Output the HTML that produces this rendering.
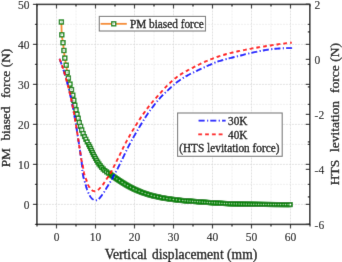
<!DOCTYPE html>
<html><head><meta charset="utf-8"><style>
html,body{margin:0;padding:0;background:#fff;}
body{width:342px;height:262px;overflow:hidden;}
text{stroke:#000;stroke-width:0.3px;}
.tk text{stroke-width:0.1px;}
svg{display:block;will-change:transform;font-family:"Liberation Serif",serif;}
</style></head><body>
<svg width="342" height="262" viewBox="0 0 342 262">
<defs><filter id="bl" x="0" y="0" width="342" height="262" filterUnits="userSpaceOnUse" primitiveUnits="userSpaceOnUse"><feConvolveMatrix order="3" kernelMatrix="0.00524 0.06192 0.00524 0.06192 0.73137 0.06192 0.00524 0.06192 0.00524" divisor="1" preserveAlpha="true" edgeMode="duplicate"/></filter></defs>
<g filter="url(#bl)">
<rect width="342" height="262" fill="#fff"/>
<g stroke="#ececec" stroke-width="0.8" stroke-dasharray="2 1" fill="none"><line x1="76.00" y1="4.4" x2="76.00" y2="224.4" /><line x1="115.00" y1="4.4" x2="115.00" y2="224.4" /><line x1="154.00" y1="4.4" x2="154.00" y2="224.4" /><line x1="193.00" y1="4.4" x2="193.00" y2="224.4" /><line x1="232.00" y1="4.4" x2="232.00" y2="224.4" /><line x1="271.00" y1="4.4" x2="271.00" y2="224.4" /><line x1="36.9" y1="184.40" x2="309.8" y2="184.40" /><line x1="36.9" y1="144.40" x2="309.8" y2="144.40" /><line x1="36.9" y1="104.40" x2="309.8" y2="104.40" /><line x1="36.9" y1="64.40" x2="309.8" y2="64.40" /><line x1="36.9" y1="24.40" x2="309.8" y2="24.40" /></g>
<g stroke="#dadada" stroke-width="0.8" stroke-dasharray="2 1" fill="none"><line x1="56.50" y1="4.4" x2="56.50" y2="224.4" /><line x1="95.50" y1="4.4" x2="95.50" y2="224.4" /><line x1="134.50" y1="4.4" x2="134.50" y2="224.4" /><line x1="173.50" y1="4.4" x2="173.50" y2="224.4" /><line x1="212.50" y1="4.4" x2="212.50" y2="224.4" /><line x1="251.50" y1="4.4" x2="251.50" y2="224.4" /><line x1="290.50" y1="4.4" x2="290.50" y2="224.4" /><line x1="36.9" y1="204.40" x2="309.8" y2="204.40" /><line x1="36.9" y1="164.40" x2="309.8" y2="164.40" /><line x1="36.9" y1="124.40" x2="309.8" y2="124.40" /><line x1="36.9" y1="84.40" x2="309.8" y2="84.40" /><line x1="36.9" y1="44.40" x2="309.8" y2="44.40" /></g>
<path d="M61.40,22.00 L61.42,22.78 L61.44,23.82 L61.47,25.05 L61.49,26.43 L61.52,27.91 L61.56,29.42 L61.61,30.92 L61.66,32.35 L61.73,33.66 L61.80,34.80 L61.89,35.79 L61.99,36.70 L62.11,37.53 L62.24,38.32 L62.37,39.06 L62.50,39.78 L62.64,40.49 L62.77,41.20 L62.89,41.94 L63.00,42.70 L63.10,43.48 L63.20,44.27 L63.29,45.05 L63.38,45.84 L63.47,46.62 L63.55,47.40 L63.64,48.18 L63.72,48.95 L63.81,49.73 L63.90,50.50 L63.99,51.27 L64.07,52.04 L64.15,52.81 L64.24,53.58 L64.32,54.34 L64.40,55.11 L64.49,55.86 L64.59,56.62 L64.69,57.36 L64.80,58.10 L64.92,58.83 L65.05,59.55 L65.20,60.26 L65.34,60.97 L65.49,61.67 L65.64,62.37 L65.79,63.07 L65.94,63.78 L66.07,64.48 L66.20,65.20 L66.32,65.93 L66.42,66.67 L66.52,67.43 L66.62,68.19 L66.71,68.94 L66.80,69.69 L66.90,70.43 L66.99,71.15 L67.09,71.84 L67.20,72.50 L67.31,73.13 L67.42,73.72 L67.53,74.29 L67.65,74.84 L67.76,75.38 L67.88,75.91 L68.00,76.44 L68.13,76.98 L68.26,77.53 L68.40,78.10 L68.54,78.69 L68.70,79.28 L68.85,79.89 L69.02,80.50 L69.18,81.11 L69.35,81.72 L69.51,82.32 L69.68,82.93 L69.84,83.52 L70.00,84.10 L70.15,84.67 L70.31,85.23 L70.46,85.78 L70.62,86.33 L70.77,86.88 L70.92,87.42 L71.07,87.96 L71.21,88.50 L71.36,89.05 L71.50,89.60 L71.64,90.16 L71.78,90.72 L71.91,91.29 L72.05,91.85 L72.18,92.42 L72.31,92.98 L72.44,93.55 L72.56,94.10 L72.68,94.66 L72.80,95.20 L72.91,95.74 L73.02,96.27 L73.12,96.80 L73.22,97.32 L73.32,97.84 L73.41,98.36 L73.51,98.87 L73.60,99.39 L73.70,99.89 L73.80,100.40 L73.90,100.90 L74.00,101.41 L74.09,101.90 L74.19,102.40 L74.29,102.89 L74.39,103.38 L74.49,103.87 L74.59,104.35 L74.69,104.83 L74.80,105.30 L74.91,105.77 L75.03,106.23 L75.15,106.68 L75.28,107.13 L75.40,107.58 L75.52,108.02 L75.65,108.46 L75.77,108.91 L75.89,109.35 L76.00,109.80 L76.11,110.25 L76.21,110.71 L76.31,111.17 L76.40,111.62 L76.50,112.08 L76.60,112.54 L76.69,112.99 L76.79,113.43 L76.89,113.87 L77.00,114.30 L77.11,114.72 L77.23,115.13 L77.35,115.53 L77.47,115.92 L77.59,116.31 L77.72,116.70 L77.84,117.09 L77.96,117.49 L78.08,117.89 L78.20,118.30 L78.31,118.72 L78.42,119.15 L78.53,119.58 L78.64,120.02 L78.74,120.46 L78.85,120.90 L78.96,121.34 L79.07,121.77 L79.18,122.19 L79.30,122.60 L79.42,123.00 L79.55,123.40 L79.68,123.78 L79.82,124.17 L79.95,124.54 L80.08,124.92 L80.22,125.29 L80.35,125.66 L80.48,126.03 L80.60,126.40 L80.72,126.77 L80.83,127.13 L80.94,127.49 L81.04,127.85 L81.14,128.21 L81.25,128.57 L81.35,128.93 L81.46,129.28 L81.58,129.64 L81.70,130.00 L81.83,130.36 L81.96,130.73 L82.10,131.10 L82.24,131.47 L82.38,131.84 L82.53,132.20 L82.67,132.56 L82.82,132.92 L82.96,133.26 L83.10,133.60 L83.24,133.92 L83.37,134.21 L83.49,134.49 L83.62,134.77 L83.74,135.04 L83.88,135.31 L84.01,135.60 L84.16,135.91 L84.32,136.24 L84.50,136.60 L84.69,136.99 L84.89,137.41 L85.11,137.85 L85.33,138.30 L85.56,138.77 L85.80,139.25 L86.04,139.73 L86.29,140.22 L86.55,140.71 L86.80,141.20 L87.05,141.67 L87.30,142.12 L87.55,142.56 L87.81,143.00 L88.07,143.46 L88.34,143.93 L88.63,144.45 L88.93,145.00 L89.25,145.62 L89.60,146.30 L89.97,147.06 L90.37,147.91 L90.78,148.81 L91.22,149.76 L91.66,150.74 L92.12,151.74 L92.59,152.74 L93.06,153.73 L93.53,154.69 L94.00,155.60 L94.48,156.49 L94.96,157.38 L95.46,158.27 L95.96,159.15 L96.46,160.02 L96.97,160.87 L97.48,161.70 L97.99,162.50 L98.50,163.27 L99.00,164.00 L99.50,164.69 L99.98,165.35 L100.47,165.98 L100.95,166.57 L101.44,167.15 L101.93,167.71 L102.43,168.24 L102.94,168.77 L103.46,169.29 L104.00,169.80 L104.54,170.29 L105.07,170.73 L105.60,171.15 L106.14,171.55 L106.69,171.94 L107.26,172.33 L107.87,172.75 L108.53,173.19 L109.23,173.67 L110.00,174.20 L110.84,174.79 L111.74,175.42 L112.71,176.09 L113.71,176.79 L114.75,177.50 L115.81,178.22 L116.87,178.94 L117.94,179.65 L118.98,180.34 L120.00,181.00 L121.00,181.64 L122.00,182.27 L123.00,182.90 L124.00,183.52 L125.00,184.14 L126.00,184.74 L127.00,185.33 L128.00,185.90 L129.00,186.46 L130.00,187.00 L131.00,187.52 L132.00,188.03 L133.00,188.52 L134.00,189.00 L135.00,189.46 L136.00,189.91 L137.00,190.35 L138.00,190.78 L139.00,191.19 L140.00,191.60 L141.01,192.00 L142.03,192.38 L143.07,192.76 L144.10,193.12 L145.13,193.47 L146.15,193.81 L147.15,194.13 L148.13,194.44 L149.09,194.73 L150.00,195.00 L150.88,195.25 L151.73,195.48 L152.55,195.70 L153.35,195.89 L154.13,196.07 L154.90,196.25 L155.65,196.41 L156.40,196.58 L157.15,196.74 L157.90,196.90 L158.61,197.06 L159.24,197.20 L159.84,197.34 L160.42,197.47 L161.01,197.59 L161.63,197.72 L162.31,197.85 L163.09,197.99 L163.97,198.14 L165.00,198.30 L166.18,198.48 L167.49,198.67 L168.92,198.88 L170.43,199.10 L172.01,199.31 L173.62,199.53 L175.25,199.74 L176.87,199.94 L178.46,200.13 L180.00,200.30 L181.50,200.45 L183.00,200.59 L184.50,200.72 L186.00,200.84 L187.50,200.96 L189.00,201.07 L190.50,201.17 L192.00,201.28 L193.50,201.39 L195.00,201.50 L196.49,201.61 L197.97,201.73 L199.44,201.84 L200.90,201.95 L202.38,202.06 L203.86,202.17 L205.35,202.28 L206.87,202.39 L208.42,202.49 L210.00,202.60 L211.64,202.71 L213.34,202.82 L215.08,202.93 L216.85,203.04 L218.62,203.14 L220.39,203.25 L222.13,203.35 L223.82,203.44 L225.45,203.52 L227.00,203.60 L228.45,203.66 L229.82,203.72 L231.13,203.77 L232.39,203.81 L233.62,203.84 L234.85,203.88 L236.08,203.91 L237.34,203.94 L238.64,203.97 L240.00,204.00 L241.42,204.03 L242.87,204.07 L244.35,204.10 L245.86,204.13 L247.38,204.16 L248.90,204.19 L250.44,204.22 L251.97,204.25 L253.49,204.27 L255.00,204.30 L256.48,204.32 L257.92,204.35 L259.33,204.37 L260.75,204.39 L262.17,204.41 L263.62,204.43 L265.11,204.45 L266.66,204.47 L268.29,204.48 L270.00,204.50 L271.91,204.51 L274.05,204.53 L276.34,204.54 L278.71,204.55 L281.09,204.56 L283.39,204.57 L285.54,204.58 L287.45,204.59 L289.07,204.59 L290.30,204.60" fill="none" stroke="#f5891c" stroke-width="1.8" stroke-linejoin="round"/>
<g fill="#ffffff" stroke="#0b840b" stroke-width="1.8"><rect x="59.40" y="20.00" width="4.0" height="4.0" stroke-width="1.35"/><rect x="59.80" y="32.80" width="4.0" height="4.0" stroke-width="1.35"/><rect x="61.00" y="40.70" width="4.0" height="4.0" stroke-width="1.35"/><rect x="61.90" y="48.50" width="4.0" height="4.0" stroke-width="1.35"/><rect x="62.80" y="56.10" width="4.0" height="4.0" stroke-width="1.35"/><rect x="64.20" y="63.20" width="4.0" height="4.0" stroke-width="1.35"/><rect x="65.20" y="70.50" width="4.0" height="4.0" stroke-width="1.35"/><rect x="66.40" y="76.10" width="4.0" height="4.0" stroke-width="1.35"/><rect x="68.00" y="82.10" width="4.0" height="4.0" stroke-width="1.35"/><rect x="69.50" y="87.60" width="4.0" height="4.0" stroke-width="1.35"/><rect x="70.80" y="93.20" width="4.0" height="4.0" stroke-width="1.35"/><rect x="71.80" y="98.40" width="4.0" height="4.0" stroke-width="1.35"/><rect x="72.80" y="103.30" width="4.0" height="4.0" stroke-width="1.35"/><rect x="74.00" y="107.80" width="4.0" height="4.0" stroke-width="1.35"/><rect x="75.00" y="112.30" width="4.0" height="4.0" stroke-width="1.35"/><rect x="76.20" y="116.30" width="4.0" height="4.0" stroke-width="1.35"/><rect x="77.30" y="120.60" width="4.0" height="4.0" stroke-width="1.35"/><rect x="78.60" y="124.40" width="4.0" height="4.0" stroke-width="1.35"/><rect x="79.70" y="128.00" width="4.0" height="4.0" stroke-width="1.35"/><rect x="81.10" y="131.60" width="4.0" height="4.0" stroke-width="1.35"/><rect x="82.65" y="134.75" width="3.7" height="3.7" stroke-width="1.45"/><rect x="83.98" y="137.44" width="3.7" height="3.7" stroke-width="1.45"/><rect x="85.36" y="140.10" width="3.7" height="3.7" stroke-width="1.45"/><rect x="86.84" y="142.71" width="3.7" height="3.7" stroke-width="1.45"/><rect x="87.85" y="144.66" width="3.7" height="3.7" stroke-width="1.45"/><rect x="88.79" y="146.65" width="3.7" height="3.7" stroke-width="1.45"/><rect x="89.70" y="148.66" width="3.7" height="3.7" stroke-width="1.45"/><rect x="90.62" y="150.65" width="3.7" height="3.7" stroke-width="1.45"/><rect x="91.58" y="152.64" width="3.7" height="3.7" stroke-width="1.45"/><rect x="92.60" y="154.59" width="3.7" height="3.7" stroke-width="1.45"/><rect x="93.66" y="156.51" width="3.7" height="3.7" stroke-width="1.45"/><rect x="94.76" y="158.42" width="3.7" height="3.7" stroke-width="1.45"/><rect x="95.91" y="160.29" width="3.7" height="3.7" stroke-width="1.45"/><rect x="97.13" y="162.12" width="3.7" height="3.7" stroke-width="1.45"/><rect x="98.44" y="163.89" width="3.7" height="3.7" stroke-width="1.45"/><rect x="99.84" y="165.59" width="3.7" height="3.7" stroke-width="1.45"/><rect x="101.35" y="167.18" width="3.7" height="3.7" stroke-width="1.45"/><rect x="102.97" y="168.67" width="3.7" height="3.7" stroke-width="1.45"/><rect x="104.72" y="170.00" width="3.7" height="3.7" stroke-width="1.45"/><rect x="106.54" y="171.24" width="3.7" height="3.7" stroke-width="1.45"/><rect x="108.35" y="172.49" width="3.7" height="3.7" stroke-width="1.45"/><rect x="109.38" y="173.21" width="3.7" height="3.7" stroke-width="1.45"/><rect x="110.40" y="173.92" width="3.7" height="3.7" stroke-width="1.45"/><rect x="111.43" y="174.64" width="3.7" height="3.7" stroke-width="1.45"/><rect x="112.46" y="175.35" width="3.7" height="3.7" stroke-width="1.45"/><rect x="113.49" y="176.05" width="3.7" height="3.7" stroke-width="1.45"/><rect x="114.52" y="176.75" width="3.7" height="3.7" stroke-width="1.45"/><rect x="115.56" y="177.45" width="3.7" height="3.7" stroke-width="1.45"/><rect x="116.60" y="178.14" width="3.7" height="3.7" stroke-width="1.45"/><rect x="117.65" y="178.83" width="3.7" height="3.7" stroke-width="1.45"/><rect x="118.70" y="179.50" width="3.7" height="3.7" stroke-width="1.45"/><rect x="119.75" y="180.17" width="3.7" height="3.7" stroke-width="1.45"/><rect x="120.81" y="180.84" width="3.7" height="3.7" stroke-width="1.45"/><rect x="121.87" y="181.50" width="3.7" height="3.7" stroke-width="1.45"/><rect x="122.94" y="182.16" width="3.7" height="3.7" stroke-width="1.45"/><rect x="124.01" y="182.80" width="3.7" height="3.7" stroke-width="1.45"/><rect x="125.08" y="183.44" width="3.7" height="3.7" stroke-width="1.45"/><rect x="126.17" y="184.06" width="3.7" height="3.7" stroke-width="1.45"/><rect x="127.26" y="184.67" width="3.7" height="3.7" stroke-width="1.45"/><rect x="128.36" y="185.26" width="3.7" height="3.7" stroke-width="1.45"/><rect x="129.47" y="185.83" width="3.7" height="3.7" stroke-width="1.45"/><rect x="130.59" y="186.39" width="3.7" height="3.7" stroke-width="1.45"/><rect x="131.71" y="186.94" width="3.7" height="3.7" stroke-width="1.45"/><rect x="132.84" y="187.47" width="3.7" height="3.7" stroke-width="1.45"/><rect x="133.98" y="187.99" width="3.7" height="3.7" stroke-width="1.45"/><rect x="135.13" y="188.49" width="3.7" height="3.7" stroke-width="1.45"/><rect x="136.28" y="188.98" width="3.7" height="3.7" stroke-width="1.45"/><rect x="137.43" y="189.46" width="3.7" height="3.7" stroke-width="1.45"/><rect x="138.74" y="190.07" width="3.4" height="3.4" stroke-width="1.7"/><rect x="139.91" y="190.52" width="3.4" height="3.4" stroke-width="1.7"/><rect x="141.08" y="190.95" width="3.4" height="3.4" stroke-width="1.7"/><rect x="142.26" y="191.37" width="3.4" height="3.4" stroke-width="1.7"/><rect x="143.44" y="191.77" width="3.4" height="3.4" stroke-width="1.7"/><rect x="144.63" y="192.16" width="3.4" height="3.4" stroke-width="1.7"/><rect x="145.82" y="192.54" width="3.4" height="3.4" stroke-width="1.7"/><rect x="147.02" y="192.91" width="3.4" height="3.4" stroke-width="1.7"/><rect x="148.21" y="193.27" width="3.4" height="3.4" stroke-width="1.7"/><rect x="149.41" y="193.62" width="3.4" height="3.4" stroke-width="1.7"/><rect x="150.62" y="193.94" width="3.4" height="3.4" stroke-width="1.7"/><rect x="151.84" y="194.24" width="3.4" height="3.4" stroke-width="1.7"/><rect x="153.05" y="194.52" width="3.4" height="3.4" stroke-width="1.7"/><rect x="154.28" y="194.78" width="3.4" height="3.4" stroke-width="1.7"/><rect x="155.50" y="195.05" width="3.4" height="3.4" stroke-width="1.7"/><rect x="156.72" y="195.32" width="3.4" height="3.4" stroke-width="1.7"/><rect x="157.94" y="195.59" width="3.4" height="3.4" stroke-width="1.7"/><rect x="159.16" y="195.86" width="3.4" height="3.4" stroke-width="1.7"/><rect x="160.38" y="196.11" width="3.4" height="3.4" stroke-width="1.7"/><rect x="161.61" y="196.33" width="3.4" height="3.4" stroke-width="1.7"/><rect x="162.85" y="196.53" width="3.4" height="3.4" stroke-width="1.7"/><rect x="164.08" y="196.72" width="3.4" height="3.4" stroke-width="1.7"/><rect x="165.32" y="196.90" width="3.4" height="3.4" stroke-width="1.7"/><rect x="166.56" y="197.08" width="3.4" height="3.4" stroke-width="1.7"/><rect x="167.79" y="197.26" width="3.4" height="3.4" stroke-width="1.7"/><rect x="169.03" y="197.44" width="3.4" height="3.4" stroke-width="1.7"/><rect x="170.27" y="197.61" width="3.4" height="3.4" stroke-width="1.7"/><rect x="171.51" y="197.77" width="3.4" height="3.4" stroke-width="1.7"/><rect x="172.75" y="197.94" width="3.4" height="3.4" stroke-width="1.7"/><rect x="173.99" y="198.09" width="3.4" height="3.4" stroke-width="1.7"/><rect x="175.23" y="198.25" width="3.4" height="3.4" stroke-width="1.7"/><rect x="176.47" y="198.39" width="3.4" height="3.4" stroke-width="1.7"/><rect x="177.71" y="198.53" width="3.4" height="3.4" stroke-width="1.7"/><rect x="178.95" y="198.67" width="3.4" height="3.4" stroke-width="1.7"/><rect x="180.20" y="198.79" width="3.4" height="3.4" stroke-width="1.7"/><rect x="181.44" y="198.91" width="3.4" height="3.4" stroke-width="1.7"/><rect x="182.69" y="199.01" width="3.4" height="3.4" stroke-width="1.7"/><rect x="183.93" y="199.11" width="3.4" height="3.4" stroke-width="1.7"/><rect x="185.18" y="199.21" width="3.4" height="3.4" stroke-width="1.7"/><rect x="186.43" y="199.30" width="3.4" height="3.4" stroke-width="1.7"/><rect x="187.67" y="199.39" width="3.4" height="3.4" stroke-width="1.7"/><rect x="188.92" y="199.48" width="3.4" height="3.4" stroke-width="1.7"/><rect x="190.17" y="199.57" width="3.4" height="3.4" stroke-width="1.7"/><rect x="191.41" y="199.66" width="3.4" height="3.4" stroke-width="1.7"/><rect x="192.66" y="199.75" width="3.4" height="3.4" stroke-width="1.7"/><rect x="193.91" y="199.85" width="3.4" height="3.4" stroke-width="1.7"/><rect x="195.15" y="199.94" width="3.4" height="3.4" stroke-width="1.7"/><rect x="196.40" y="200.04" width="3.4" height="3.4" stroke-width="1.7"/><rect x="197.65" y="200.13" width="3.4" height="3.4" stroke-width="1.7"/><rect x="198.89" y="200.23" width="3.4" height="3.4" stroke-width="1.7"/><rect x="200.14" y="200.32" width="3.4" height="3.4" stroke-width="1.7"/><rect x="201.39" y="200.42" width="3.4" height="3.4" stroke-width="1.7"/><rect x="202.63" y="200.51" width="3.4" height="3.4" stroke-width="1.7"/><rect x="203.88" y="200.60" width="3.4" height="3.4" stroke-width="1.7"/><rect x="205.13" y="200.68" width="3.4" height="3.4" stroke-width="1.7"/><rect x="206.37" y="200.77" width="3.4" height="3.4" stroke-width="1.7"/><rect x="207.62" y="200.85" width="3.4" height="3.4" stroke-width="1.7"/><rect x="208.87" y="200.94" width="3.4" height="3.4" stroke-width="1.7"/><rect x="210.12" y="201.02" width="3.4" height="3.4" stroke-width="1.7"/><rect x="211.36" y="201.10" width="3.4" height="3.4" stroke-width="1.7"/><rect x="212.61" y="201.18" width="3.4" height="3.4" stroke-width="1.7"/><rect x="213.86" y="201.26" width="3.4" height="3.4" stroke-width="1.7"/><rect x="215.11" y="201.33" width="3.4" height="3.4" stroke-width="1.7"/><rect x="216.35" y="201.41" width="3.4" height="3.4" stroke-width="1.7"/><rect x="217.60" y="201.48" width="3.4" height="3.4" stroke-width="1.7"/><rect x="218.85" y="201.56" width="3.4" height="3.4" stroke-width="1.7"/><rect x="220.10" y="201.63" width="3.4" height="3.4" stroke-width="1.7"/><rect x="221.34" y="201.70" width="3.4" height="3.4" stroke-width="1.7"/><rect x="222.59" y="201.76" width="3.4" height="3.4" stroke-width="1.7"/><rect x="223.84" y="201.83" width="3.4" height="3.4" stroke-width="1.7"/><rect x="225.09" y="201.89" width="3.4" height="3.4" stroke-width="1.7"/><rect x="226.34" y="201.95" width="3.4" height="3.4" stroke-width="1.7"/><rect x="227.59" y="202.00" width="3.4" height="3.4" stroke-width="1.7"/><rect x="228.84" y="202.05" width="3.4" height="3.4" stroke-width="1.7"/><rect x="230.09" y="202.09" width="3.4" height="3.4" stroke-width="1.7"/><rect x="231.34" y="202.13" width="3.4" height="3.4" stroke-width="1.7"/><rect x="232.58" y="202.16" width="3.4" height="3.4" stroke-width="1.7"/><rect x="233.83" y="202.19" width="3.4" height="3.4" stroke-width="1.7"/><rect x="235.08" y="202.22" width="3.4" height="3.4" stroke-width="1.7"/><rect x="236.33" y="202.25" width="3.4" height="3.4" stroke-width="1.7"/><rect x="237.58" y="202.28" width="3.4" height="3.4" stroke-width="1.7"/><rect x="238.83" y="202.31" width="3.4" height="3.4" stroke-width="1.7"/><rect x="240.08" y="202.34" width="3.4" height="3.4" stroke-width="1.7"/><rect x="241.33" y="202.37" width="3.4" height="3.4" stroke-width="1.7"/><rect x="242.58" y="202.40" width="3.4" height="3.4" stroke-width="1.7"/><rect x="243.83" y="202.43" width="3.4" height="3.4" stroke-width="1.7"/><rect x="245.08" y="202.45" width="3.4" height="3.4" stroke-width="1.7"/><rect x="246.33" y="202.48" width="3.4" height="3.4" stroke-width="1.7"/><rect x="247.58" y="202.50" width="3.4" height="3.4" stroke-width="1.7"/><rect x="248.83" y="202.52" width="3.4" height="3.4" stroke-width="1.7"/><rect x="250.08" y="202.54" width="3.4" height="3.4" stroke-width="1.7"/><rect x="251.33" y="202.57" width="3.4" height="3.4" stroke-width="1.7"/><rect x="252.58" y="202.59" width="3.4" height="3.4" stroke-width="1.7"/><rect x="253.83" y="202.61" width="3.4" height="3.4" stroke-width="1.7"/><rect x="255.08" y="202.63" width="3.4" height="3.4" stroke-width="1.7"/><rect x="256.33" y="202.65" width="3.4" height="3.4" stroke-width="1.7"/><rect x="257.58" y="202.67" width="3.4" height="3.4" stroke-width="1.7"/><rect x="258.83" y="202.69" width="3.4" height="3.4" stroke-width="1.7"/><rect x="260.08" y="202.71" width="3.4" height="3.4" stroke-width="1.7"/><rect x="261.33" y="202.72" width="3.4" height="3.4" stroke-width="1.7"/><rect x="262.58" y="202.74" width="3.4" height="3.4" stroke-width="1.7"/><rect x="263.83" y="202.76" width="3.4" height="3.4" stroke-width="1.7"/><rect x="265.08" y="202.77" width="3.4" height="3.4" stroke-width="1.7"/><rect x="266.33" y="202.78" width="3.4" height="3.4" stroke-width="1.7"/><rect x="267.58" y="202.79" width="3.4" height="3.4" stroke-width="1.7"/><rect x="268.83" y="202.80" width="3.4" height="3.4" stroke-width="1.7"/><rect x="270.08" y="202.81" width="3.4" height="3.4" stroke-width="1.7"/><rect x="271.33" y="202.82" width="3.4" height="3.4" stroke-width="1.7"/><rect x="272.58" y="202.83" width="3.4" height="3.4" stroke-width="1.7"/><rect x="273.83" y="202.84" width="3.4" height="3.4" stroke-width="1.7"/><rect x="275.08" y="202.84" width="3.4" height="3.4" stroke-width="1.7"/><rect x="276.33" y="202.85" width="3.4" height="3.4" stroke-width="1.7"/><rect x="277.58" y="202.85" width="3.4" height="3.4" stroke-width="1.7"/><rect x="278.83" y="202.86" width="3.4" height="3.4" stroke-width="1.7"/><rect x="280.08" y="202.87" width="3.4" height="3.4" stroke-width="1.7"/><rect x="281.33" y="202.87" width="3.4" height="3.4" stroke-width="1.7"/><rect x="282.58" y="202.88" width="3.4" height="3.4" stroke-width="1.7"/><rect x="283.83" y="202.88" width="3.4" height="3.4" stroke-width="1.7"/><rect x="285.08" y="202.89" width="3.4" height="3.4" stroke-width="1.7"/><rect x="286.33" y="202.89" width="3.4" height="3.4" stroke-width="1.7"/><rect x="287.58" y="202.90" width="3.4" height="3.4" stroke-width="1.7"/><rect x="288.60" y="202.90" width="3.4" height="3.4" stroke-width="1.7"/></g>
<g fill="#9fd09f"><rect x="113.54" y="176.48" width="1.2" height="1.2"/><rect x="116.19" y="178.28" width="1.2" height="1.2"/><rect x="118.86" y="180.05" width="1.2" height="1.2"/><rect x="121.55" y="181.77" width="1.2" height="1.2"/><rect x="124.27" y="183.46" width="1.2" height="1.2"/><rect x="127.03" y="185.09" width="1.2" height="1.2"/><rect x="129.83" y="186.63" width="1.2" height="1.2"/><rect x="132.69" y="188.06" width="1.2" height="1.2"/><rect x="135.60" y="189.40" width="1.2" height="1.2"/><rect x="138.54" y="190.65" width="1.2" height="1.2"/><rect x="141.52" y="191.81" width="1.2" height="1.2"/><rect x="144.54" y="192.87" width="1.2" height="1.2"/><rect x="147.59" y="193.85" width="1.2" height="1.2"/><rect x="150.66" y="194.76" width="1.2" height="1.2"/><rect x="153.76" y="195.53" width="1.2" height="1.2"/><rect x="156.89" y="196.21" width="1.2" height="1.2"/><rect x="160.01" y="196.91" width="1.2" height="1.2"/><rect x="163.16" y="197.50" width="1.2" height="1.2"/><rect x="166.32" y="197.99" width="1.2" height="1.2"/><rect x="169.49" y="198.45" width="1.2" height="1.2"/><rect x="172.66" y="198.88" width="1.2" height="1.2"/><rect x="175.83" y="199.29" width="1.2" height="1.2"/><rect x="179.01" y="199.66" width="1.2" height="1.2"/><rect x="182.19" y="199.97" width="1.2" height="1.2"/><rect x="184.64" y="200.18" width="1.2" height="1.2"/><rect x="187.08" y="200.37" width="1.2" height="1.2"/><rect x="189.52" y="200.55" width="1.2" height="1.2"/><rect x="191.97" y="200.72" width="1.2" height="1.2"/><rect x="194.41" y="200.90" width="1.2" height="1.2"/><rect x="196.85" y="201.09" width="1.2" height="1.2"/><rect x="199.30" y="201.28" width="1.2" height="1.2"/><rect x="201.74" y="201.46" width="1.2" height="1.2"/><rect x="204.18" y="201.64" width="1.2" height="1.2"/><rect x="206.63" y="201.81" width="1.2" height="1.2"/><rect x="209.07" y="201.98" width="1.2" height="1.2"/><rect x="211.51" y="202.14" width="1.2" height="1.2"/><rect x="213.96" y="202.29" width="1.2" height="1.2"/><rect x="216.41" y="202.45" width="1.2" height="1.2"/><rect x="218.85" y="202.59" width="1.2" height="1.2"/><rect x="221.30" y="202.73" width="1.2" height="1.2"/><rect x="223.74" y="202.87" width="1.2" height="1.2"/><rect x="226.19" y="202.99" width="1.2" height="1.2"/><rect x="228.64" y="203.10" width="1.2" height="1.2"/><rect x="231.09" y="203.19" width="1.2" height="1.2"/><rect x="233.53" y="203.26" width="1.2" height="1.2"/><rect x="235.98" y="203.32" width="1.2" height="1.2"/><rect x="238.43" y="203.38" width="1.2" height="1.2"/><rect x="240.88" y="203.44" width="1.2" height="1.2"/><rect x="243.33" y="203.49" width="1.2" height="1.2"/><rect x="245.78" y="203.54" width="1.2" height="1.2"/><rect x="248.23" y="203.59" width="1.2" height="1.2"/><rect x="250.68" y="203.64" width="1.2" height="1.2"/><rect x="253.13" y="203.68" width="1.2" height="1.2"/><rect x="255.58" y="203.72" width="1.2" height="1.2"/><rect x="258.03" y="203.76" width="1.2" height="1.2"/><rect x="260.48" y="203.80" width="1.2" height="1.2"/><rect x="262.93" y="203.83" width="1.2" height="1.2"/><rect x="265.38" y="203.86" width="1.2" height="1.2"/><rect x="267.83" y="203.89" width="1.2" height="1.2"/><rect x="270.28" y="203.91" width="1.2" height="1.2"/><rect x="272.73" y="203.92" width="1.2" height="1.2"/><rect x="275.18" y="203.94" width="1.2" height="1.2"/><rect x="277.63" y="203.95" width="1.2" height="1.2"/><rect x="280.08" y="203.96" width="1.2" height="1.2"/><rect x="282.53" y="203.97" width="1.2" height="1.2"/><rect x="284.98" y="203.98" width="1.2" height="1.2"/><rect x="287.43" y="203.99" width="1.2" height="1.2"/></g>
<g fill="#a8cca8"><circle cx="61.40" cy="22.00" r="0.7"/><circle cx="61.80" cy="34.80" r="0.7"/><circle cx="63.00" cy="42.70" r="0.7"/><circle cx="63.90" cy="50.50" r="0.7"/><circle cx="64.80" cy="58.10" r="0.7"/><circle cx="66.20" cy="65.20" r="0.7"/><circle cx="67.20" cy="72.50" r="0.7"/><circle cx="68.40" cy="78.10" r="0.7"/><circle cx="70.00" cy="84.10" r="0.7"/><circle cx="71.50" cy="89.60" r="0.7"/><circle cx="72.80" cy="95.20" r="0.7"/><circle cx="73.80" cy="100.40" r="0.7"/><circle cx="74.80" cy="105.30" r="0.7"/><circle cx="76.00" cy="109.80" r="0.7"/><circle cx="77.00" cy="114.30" r="0.7"/><circle cx="78.20" cy="118.30" r="0.7"/><circle cx="79.30" cy="122.60" r="0.7"/><circle cx="80.60" cy="126.40" r="0.7"/><circle cx="81.70" cy="130.00" r="0.7"/><circle cx="83.10" cy="133.60" r="0.7"/></g>
<path d="M59.57,58.70 L59.69,59.05 L59.87,59.53 L60.08,60.10 L60.31,60.73 L60.54,61.37 L60.76,62.00 L60.98,62.63 L61.21,63.28 L61.45,63.96 L61.68,64.64 L61.91,65.33 L62.14,66.00 L62.36,66.66 L62.58,67.30 L62.79,67.94 L63.00,68.59 L63.22,69.28 L63.45,70.00 L63.70,70.78 L63.95,71.59 L64.21,72.44 L64.48,73.30 L64.74,74.16 L64.99,75.00 L65.24,75.83 L65.48,76.67 L65.72,77.50 L65.96,78.33 L66.19,79.17 L66.43,80.00 L66.66,80.83 L66.89,81.67 L67.11,82.50 L67.33,83.33 L67.55,84.17 L67.77,85.00 L67.99,85.83 L68.20,86.67 L68.41,87.50 L68.62,88.33 L68.83,89.17 L69.03,90.00 L69.23,90.83 L69.43,91.67 L69.63,92.50 L69.82,93.33 L70.02,94.17 L70.21,95.00 L70.40,95.83 L70.58,96.67 L70.77,97.50 L70.95,98.33 L71.13,99.17 L71.31,100.00 L71.49,100.83 L71.67,101.67 L71.84,102.50 L72.01,103.33 L72.18,104.17 L72.35,105.00 L72.52,105.83 L72.68,106.67 L72.85,107.50 L73.01,108.33 L73.17,109.17 L73.33,110.00 L73.49,110.83 L73.65,111.67 L73.80,112.50 L73.96,113.33 L74.11,114.17 L74.26,115.00 L74.41,115.83 L74.56,116.67 L74.71,117.50 L74.85,118.33 L75.00,119.17 L75.15,120.00 L75.29,120.83 L75.43,121.67 L75.57,122.50 L75.71,123.33 L75.85,124.17 L75.99,125.00 L76.13,125.83 L76.27,126.67 L76.40,127.50 L76.54,128.33 L76.67,129.17 L76.81,130.00 L76.94,130.83 L77.07,131.67 L77.20,132.50 L77.34,133.33 L77.47,134.17 L77.60,135.00 L77.73,135.83 L77.86,136.67 L77.99,137.50 L78.12,138.33 L78.24,139.17 L78.37,140.00 L78.50,140.83 L78.63,141.67 L78.76,142.50 L78.88,143.33 L79.01,144.17 L79.14,145.00 L79.26,145.83 L79.39,146.67 L79.52,147.50 L79.64,148.33 L79.77,149.17 L79.90,150.00 L80.03,150.83 L80.15,151.67 L80.28,152.50 L80.41,153.33 L80.54,154.17 L80.66,155.00 L80.80,155.80 L80.93,156.57 L81.06,157.34 L81.19,158.15 L81.32,159.02 L81.44,160.00 L81.56,161.13 L81.68,162.39 L81.79,163.72 L81.90,165.06 L82.00,166.34 L82.10,167.50 L82.19,168.52 L82.26,169.46 L82.32,170.34 L82.39,171.19 L82.48,172.03 L82.60,172.90 L82.74,173.78 L82.90,174.64 L83.07,175.51 L83.26,176.38 L83.47,177.27 L83.70,178.20 L83.96,179.18 L84.26,180.20 L84.57,181.25 L84.89,182.30 L85.20,183.32 L85.50,184.30 L85.77,185.23 L86.03,186.13 L86.27,187.01 L86.53,187.87 L86.80,188.73 L87.10,189.60 L87.43,190.49 L87.79,191.41 L88.16,192.32 L88.54,193.20 L88.92,194.04 L89.30,194.80 L89.68,195.49 L90.06,196.13 L90.44,196.71 L90.82,197.25 L91.21,197.75 L91.60,198.20 L92.00,198.61 L92.41,198.97 L92.83,199.29 L93.24,199.56 L93.63,199.80 L94.00,200.00 L94.32,200.17 L94.61,200.29 L94.88,200.38 L95.16,200.43 L95.45,200.44 L95.80,200.40 L96.19,200.33 L96.62,200.24 L97.07,200.11 L97.54,199.91 L98.02,199.65 L98.50,199.30 L99.00,198.83 L99.53,198.25 L100.07,197.59 L100.60,196.91 L101.12,196.23 L101.60,195.60 L102.04,195.03 L102.45,194.47 L102.84,193.93 L103.22,193.38 L103.60,192.81 L104.00,192.20 L104.41,191.55 L104.81,190.88 L105.21,190.19 L105.63,189.47 L106.05,188.74 L106.50,188.00 L106.98,187.22 L107.49,186.40 L108.02,185.56 L108.54,184.73 L109.04,183.93 L109.50,183.20 L109.91,182.56 L110.29,181.99 L110.64,181.45 L110.99,180.91 L111.34,180.34 L111.70,179.70 L112.07,178.98 L112.43,178.21 L112.79,177.41 L113.17,176.59 L113.57,175.74 L114.00,174.90 L114.46,174.08 L114.94,173.28 L115.44,172.46 L115.96,171.60 L116.52,170.66 L117.10,169.60 L117.68,168.51 L118.23,167.41 L118.82,166.24 L119.48,164.91 L120.26,163.32 L121.20,161.40 L122.34,159.04 L123.66,156.29 L125.09,153.28 L126.59,150.17 L128.11,147.10 L129.60,144.20 L131.07,141.46 L132.58,138.76 L134.10,136.10 L135.63,133.47 L137.17,130.87 L138.70,128.30 L140.20,125.77 L141.68,123.28 L143.16,120.83 L144.67,118.39 L146.24,115.95 L147.90,113.50 L149.70,110.98 L151.61,108.39 L153.59,105.80 L155.57,103.29 L157.50,100.93 L159.30,98.80 L160.98,96.93 L162.58,95.27 L164.13,93.76 L165.63,92.34 L167.11,90.98 L168.60,89.60 L170.07,88.22 L171.52,86.87 L172.94,85.57 L174.36,84.33 L175.77,83.13 L177.20,82.00 L178.63,80.94 L180.07,79.94 L181.51,79.00 L182.94,78.10 L184.37,77.24 L185.80,76.40 L187.25,75.58 L188.74,74.78 L190.23,74.02 L191.68,73.30 L193.05,72.62 L194.30,72.00 L195.42,71.45 L196.43,70.96 L197.37,70.52 L198.26,70.11 L199.12,69.71 L200.00,69.30 L200.79,68.93 L201.46,68.61 L202.11,68.30 L202.85,67.96 L203.78,67.54 L205.00,67.00 L206.58,66.29 L208.45,65.45 L210.51,64.53 L212.66,63.59 L214.83,62.69 L216.90,61.90 L218.92,61.21 L220.96,60.59 L223.01,60.00 L225.04,59.45 L227.04,58.92 L229.00,58.40 L230.88,57.91 L232.70,57.46 L234.48,57.02 L236.27,56.60 L238.10,56.16 L240.00,55.70 L241.95,55.21 L243.90,54.69 L245.90,54.17 L247.96,53.64 L250.12,53.12 L252.40,52.60 L254.87,52.07 L257.51,51.53 L260.26,50.99 L263.01,50.47 L265.68,50.00 L268.20,49.60 L270.56,49.27 L272.83,49.00 L275.03,48.77 L277.17,48.59 L279.25,48.43 L281.30,48.30 L283.42,48.20 L285.62,48.14 L287.77,48.12 L289.74,48.11 L291.39,48.11 L292.60,48.10" fill="none" stroke="#0000ff" stroke-width="1.9" stroke-dasharray="6.0 2.4 1.2 2.1"/>
<path d="M59.57,58.70 L59.69,59.05 L59.87,59.53 L60.08,60.10 L60.31,60.73 L60.54,61.37 L60.76,62.00 L60.98,62.63 L61.21,63.28 L61.45,63.96 L61.68,64.64 L61.91,65.33 L62.14,66.00 L62.36,66.66 L62.58,67.30 L62.79,67.94 L63.00,68.59 L63.22,69.28 L63.45,70.00 L63.70,70.78 L63.95,71.59 L64.21,72.44 L64.48,73.30 L64.74,74.16 L64.99,75.00 L65.24,75.83 L65.48,76.67 L65.72,77.50 L65.96,78.33 L66.19,79.17 L66.43,80.00 L66.66,80.83 L66.89,81.67 L67.11,82.50 L67.33,83.33 L67.55,84.17 L67.77,85.00 L67.99,85.83 L68.20,86.67 L68.41,87.50 L68.62,88.33 L68.83,89.17 L69.03,90.00 L69.23,90.83 L69.43,91.67 L69.63,92.50 L69.82,93.33 L70.02,94.17 L70.21,95.00 L70.40,95.83 L70.58,96.67 L70.77,97.50 L70.95,98.33 L71.13,99.17 L71.31,100.00 L71.49,100.83 L71.67,101.67 L71.84,102.50 L72.01,103.33 L72.18,104.17 L72.35,105.00 L72.52,105.83 L72.68,106.67 L72.85,107.50 L73.01,108.33 L73.17,109.17 L73.33,110.00 L73.49,110.83 L73.65,111.67 L73.80,112.50 L73.96,113.33 L74.11,114.17 L74.26,115.00 L74.41,115.83 L74.56,116.67 L74.71,117.50 L74.85,118.33 L75.00,119.17 L75.15,120.00 L75.29,120.83 L75.43,121.67 L75.57,122.50 L75.71,123.33 L75.85,124.17 L75.99,125.00 L76.13,125.83 L76.27,126.67 L76.40,127.50 L76.54,128.33 L76.67,129.17 L76.81,130.00 L76.94,130.83 L77.07,131.67 L77.20,132.50 L77.34,133.33 L77.47,134.17 L77.60,135.00 L77.73,135.83 L77.86,136.67 L77.99,137.50 L78.12,138.33 L78.24,139.17 L78.37,140.00 L78.50,140.83 L78.63,141.67 L78.76,142.50 L78.88,143.33 L79.01,144.17 L79.14,145.00 L79.26,145.83 L79.39,146.67 L79.52,147.50 L79.64,148.33 L79.77,149.17 L79.90,150.00 L80.03,150.83 L80.15,151.67 L80.28,152.50 L80.41,153.33 L80.54,154.17 L80.66,155.00 L80.78,155.81 L80.89,156.60 L81.00,157.39 L81.12,158.20 L81.27,159.06 L81.44,160.00 L81.66,161.03 L81.92,162.14 L82.20,163.31 L82.49,164.49 L82.76,165.66 L83.00,166.80 L83.20,167.90 L83.36,168.98 L83.50,170.05 L83.66,171.12 L83.85,172.20 L84.10,173.30 L84.42,174.44 L84.80,175.63 L85.22,176.83 L85.64,177.99 L86.04,179.10 L86.40,180.10 L86.71,181.00 L86.99,181.84 L87.25,182.61 L87.50,183.32 L87.75,183.98 L88.00,184.60 L88.25,185.15 L88.49,185.63 L88.72,186.06 L88.96,186.47 L89.22,186.87 L89.50,187.30 L89.82,187.77 L90.16,188.26 L90.51,188.75 L90.88,189.22 L91.24,189.64 L91.60,190.00 L91.95,190.29 L92.31,190.52 L92.67,190.71 L93.02,190.87 L93.37,190.99 L93.70,191.10 L94.02,191.19 L94.32,191.25 L94.61,191.28 L94.90,191.29 L95.20,191.26 L95.50,191.20 L95.81,191.10 L96.13,190.96 L96.44,190.79 L96.76,190.60 L97.08,190.40 L97.40,190.20 L97.71,190.01 L98.00,189.82 L98.30,189.62 L98.61,189.39 L98.94,189.12 L99.30,188.80 L99.71,188.40 L100.17,187.94 L100.64,187.44 L101.12,186.91 L101.58,186.39 L102.00,185.90 L102.37,185.44 L102.70,185.00 L103.02,184.56 L103.33,184.10 L103.65,183.62 L104.00,183.10 L104.36,182.54 L104.72,181.97 L105.09,181.37 L105.48,180.73 L105.91,180.04 L106.40,179.30 L106.96,178.49 L107.59,177.61 L108.26,176.69 L108.93,175.74 L109.59,174.77 L110.20,173.80 L110.72,172.89 L111.18,172.03 L111.61,171.15 L112.08,170.19 L112.62,169.06 L113.30,167.70 L114.12,166.07 L115.06,164.23 L116.07,162.22 L117.13,160.11 L118.22,157.95 L119.30,155.80 L120.35,153.67 L121.38,151.51 L122.43,149.31 L123.54,147.03 L124.75,144.64 L126.10,142.10 L127.60,139.37 L129.23,136.46 L130.96,133.44 L132.75,130.38 L134.57,127.34 L136.40,124.40 L138.25,121.51 L140.15,118.61 L142.08,115.73 L144.03,112.91 L145.98,110.19 L147.90,107.60 L149.83,105.13 L151.79,102.76 L153.74,100.47 L155.66,98.29 L157.52,96.20 L159.30,94.20 L160.98,92.31 L162.58,90.52 L164.13,88.83 L165.63,87.21 L167.11,85.68 L168.60,84.20 L170.07,82.79 L171.52,81.47 L172.94,80.21 L174.36,79.02 L175.77,77.89 L177.20,76.80 L178.63,75.77 L180.07,74.82 L181.51,73.92 L182.94,73.06 L184.37,72.22 L185.80,71.40 L187.25,70.58 L188.74,69.77 L190.23,68.99 L191.68,68.24 L193.05,67.54 L194.30,66.90 L195.42,66.33 L196.43,65.83 L197.37,65.37 L198.26,64.94 L199.12,64.52 L200.00,64.10 L200.79,63.70 L201.46,63.36 L202.11,63.02 L202.85,62.66 L203.78,62.23 L205.00,61.70 L206.58,61.04 L208.45,60.26 L210.51,59.43 L212.66,58.57 L214.83,57.75 L216.90,57.00 L218.92,56.32 L220.96,55.68 L223.01,55.06 L225.04,54.48 L227.04,53.92 L229.00,53.40 L230.88,52.92 L232.70,52.49 L234.48,52.08 L236.27,51.69 L238.10,51.30 L240.00,50.90 L241.95,50.48 L243.90,50.07 L245.90,49.66 L247.96,49.24 L250.12,48.82 L252.40,48.40 L254.87,47.96 L257.51,47.51 L260.26,47.06 L263.01,46.62 L265.68,46.19 L268.20,45.80 L270.57,45.44 L272.86,45.09 L275.08,44.77 L277.23,44.46 L279.30,44.17 L281.30,43.90 L283.32,43.63 L285.38,43.37 L287.37,43.13 L289.17,42.91 L290.69,42.73 L291.80,42.60" fill="none" stroke="#ff0000" stroke-width="1.9" stroke-dasharray="3.8 3.0"/>
<g stroke="#1e1e1e" stroke-width="1.2"><line x1="34.90" y1="224.40" x2="36.9" y2="224.40"/><line x1="307.80" y1="224.40" x2="309.8" y2="224.40"/><line x1="32.90" y1="204.40" x2="36.9" y2="204.40"/><line x1="305.80" y1="204.40" x2="309.8" y2="204.40"/><line x1="34.90" y1="184.40" x2="36.9" y2="184.40"/><line x1="307.80" y1="184.40" x2="309.8" y2="184.40"/><line x1="32.90" y1="164.40" x2="36.9" y2="164.40"/><line x1="305.80" y1="164.40" x2="309.8" y2="164.40"/><line x1="34.90" y1="144.40" x2="36.9" y2="144.40"/><line x1="307.80" y1="144.40" x2="309.8" y2="144.40"/><line x1="32.90" y1="124.40" x2="36.9" y2="124.40"/><line x1="305.80" y1="124.40" x2="309.8" y2="124.40"/><line x1="34.90" y1="104.40" x2="36.9" y2="104.40"/><line x1="307.80" y1="104.40" x2="309.8" y2="104.40"/><line x1="32.90" y1="84.40" x2="36.9" y2="84.40"/><line x1="305.80" y1="84.40" x2="309.8" y2="84.40"/><line x1="34.90" y1="64.40" x2="36.9" y2="64.40"/><line x1="307.80" y1="64.40" x2="309.8" y2="64.40"/><line x1="32.90" y1="44.40" x2="36.9" y2="44.40"/><line x1="305.80" y1="44.40" x2="309.8" y2="44.40"/><line x1="34.90" y1="24.40" x2="36.9" y2="24.40"/><line x1="307.80" y1="24.40" x2="309.8" y2="24.40"/><line x1="32.90" y1="4.40" x2="36.9" y2="4.40"/><line x1="305.80" y1="4.40" x2="309.8" y2="4.40"/><line x1="305.80" y1="224.40" x2="309.8" y2="224.40"/><line x1="307.80" y1="196.90" x2="309.8" y2="196.90"/><line x1="305.80" y1="169.40" x2="309.8" y2="169.40"/><line x1="307.80" y1="141.90" x2="309.8" y2="141.90"/><line x1="305.80" y1="114.40" x2="309.8" y2="114.40"/><line x1="307.80" y1="86.90" x2="309.8" y2="86.90"/><line x1="305.80" y1="59.40" x2="309.8" y2="59.40"/><line x1="307.80" y1="31.90" x2="309.8" y2="31.90"/><line x1="305.80" y1="4.40" x2="309.8" y2="4.40"/><line x1="37.00" y1="224.4" x2="37.00" y2="226.40"/><line x1="37.00" y1="4.4" x2="37.00" y2="6.40"/><line x1="56.50" y1="224.4" x2="56.50" y2="228.40"/><line x1="56.50" y1="4.4" x2="56.50" y2="8.40"/><line x1="76.00" y1="224.4" x2="76.00" y2="226.40"/><line x1="76.00" y1="4.4" x2="76.00" y2="6.40"/><line x1="95.50" y1="224.4" x2="95.50" y2="228.40"/><line x1="95.50" y1="4.4" x2="95.50" y2="8.40"/><line x1="115.00" y1="224.4" x2="115.00" y2="226.40"/><line x1="115.00" y1="4.4" x2="115.00" y2="6.40"/><line x1="134.50" y1="224.4" x2="134.50" y2="228.40"/><line x1="134.50" y1="4.4" x2="134.50" y2="8.40"/><line x1="154.00" y1="224.4" x2="154.00" y2="226.40"/><line x1="154.00" y1="4.4" x2="154.00" y2="6.40"/><line x1="173.50" y1="224.4" x2="173.50" y2="228.40"/><line x1="173.50" y1="4.4" x2="173.50" y2="8.40"/><line x1="193.00" y1="224.4" x2="193.00" y2="226.40"/><line x1="193.00" y1="4.4" x2="193.00" y2="6.40"/><line x1="212.50" y1="224.4" x2="212.50" y2="228.40"/><line x1="212.50" y1="4.4" x2="212.50" y2="8.40"/><line x1="232.00" y1="224.4" x2="232.00" y2="226.40"/><line x1="232.00" y1="4.4" x2="232.00" y2="6.40"/><line x1="251.50" y1="224.4" x2="251.50" y2="228.40"/><line x1="251.50" y1="4.4" x2="251.50" y2="8.40"/><line x1="271.00" y1="224.4" x2="271.00" y2="226.40"/><line x1="271.00" y1="4.4" x2="271.00" y2="6.40"/><line x1="290.50" y1="224.4" x2="290.50" y2="228.40"/><line x1="290.50" y1="4.4" x2="290.50" y2="8.40"/><line x1="310.00" y1="224.4" x2="310.00" y2="226.40"/><line x1="310.00" y1="4.4" x2="310.00" y2="6.40"/></g>
<rect x="36.9" y="4.4" width="272.90" height="220.00" fill="none" stroke="#1e1e1e" stroke-width="1.5"/>
<g class="tk" font-size="11.5" fill="#000"><text x="29.6" y="208.60" text-anchor="end">0</text><text x="29.6" y="168.60" text-anchor="end">10</text><text x="29.6" y="128.60" text-anchor="end">20</text><text x="29.6" y="88.60" text-anchor="end">30</text><text x="29.6" y="48.60" text-anchor="end">40</text><text x="29.6" y="8.60" text-anchor="end">50</text><text x="56.50" y="240.6" text-anchor="middle">0</text><text x="95.50" y="240.6" text-anchor="middle">10</text><text x="134.50" y="240.6" text-anchor="middle">20</text><text x="173.50" y="240.6" text-anchor="middle">30</text><text x="212.50" y="240.6" text-anchor="middle">40</text><text x="251.50" y="240.6" text-anchor="middle">50</text><text x="290.50" y="240.6" text-anchor="middle">60</text><text x="314.40" y="8.70">2</text><text x="314.40" y="63.70">0</text><text x="314.60" y="118.70">-2</text><text x="314.60" y="173.70">-4</text><text x="314.60" y="228.70">-6</text></g>
<g fill="#000"><text transform="translate(104.72,258.5) scale(1,1.08)" font-size="13.6">Vertical</text><text transform="translate(151.98,258.5) scale(1,1.08)" font-size="13.6">displacement</text><text transform="translate(227.07,258.5) scale(1,1.08)" font-size="13.6">(mm)</text><text transform="translate(9.8,167.36) rotate(-90)" font-size="13.3">PM</text><text transform="translate(9.8,140.57) rotate(-90)" font-size="13.3">biased</text><text transform="translate(9.8,98.08) rotate(-90)" font-size="13.3">force</text><text transform="translate(9.8,67.29) rotate(-90)" font-size="13.3">(N)</text><text transform="translate(339.0,185.36) rotate(-90)" font-size="13.5">HTS</text><text transform="translate(339.0,152.0) rotate(-90)" font-size="13.5">levitation</text><text transform="translate(339.0,93.04) rotate(-90)" font-size="13.5">force</text><text transform="translate(339.0,61.73) rotate(-90)" font-size="13.5">(N)</text></g>
<rect x="99.3" y="16.4" width="106.2" height="14.6" fill="#fff" stroke="#7a7a7a" stroke-width="1.1"/><line x1="100.6" y1="23.8" x2="126.8" y2="23.8" stroke="#f5891c" stroke-width="1.8"/><rect x="111.7" y="21.8" width="4.0" height="4.0" fill="#fff" stroke="#0b840b" stroke-width="1.35"/><circle cx="113.7" cy="23.8" r="0.7" fill="#a8cca8"/><text transform="translate(129.9,27.6) scale(1,1.12)" font-size="11.3" fill="#000">PM biased force</text><rect x="177.6" y="113.0" width="104.6" height="43.3" fill="#fff" stroke="#7a7a7a" stroke-width="1.1"/><line x1="198.6" y1="120.6" x2="225.6" y2="120.6" stroke="#0000ff" stroke-width="1.9" stroke-dasharray="6.0 2.4 1.2 2.1"/><line x1="198.3" y1="134.4" x2="222.8" y2="134.4" stroke="#ff0000" stroke-width="1.9" stroke-dasharray="3.8 3.0"/><text transform="translate(228.0,125.0) scale(1,1.12)" font-size="11.3" fill="#000">30K</text><text transform="translate(228.0,138.6) scale(1,1.12)" font-size="11.3" fill="#000">40K</text><text transform="translate(179.2,152.3) scale(1,1.12)" font-size="11.3" fill="#000">(HTS levitation force)</text>
</g>
</svg>
</body></html>
